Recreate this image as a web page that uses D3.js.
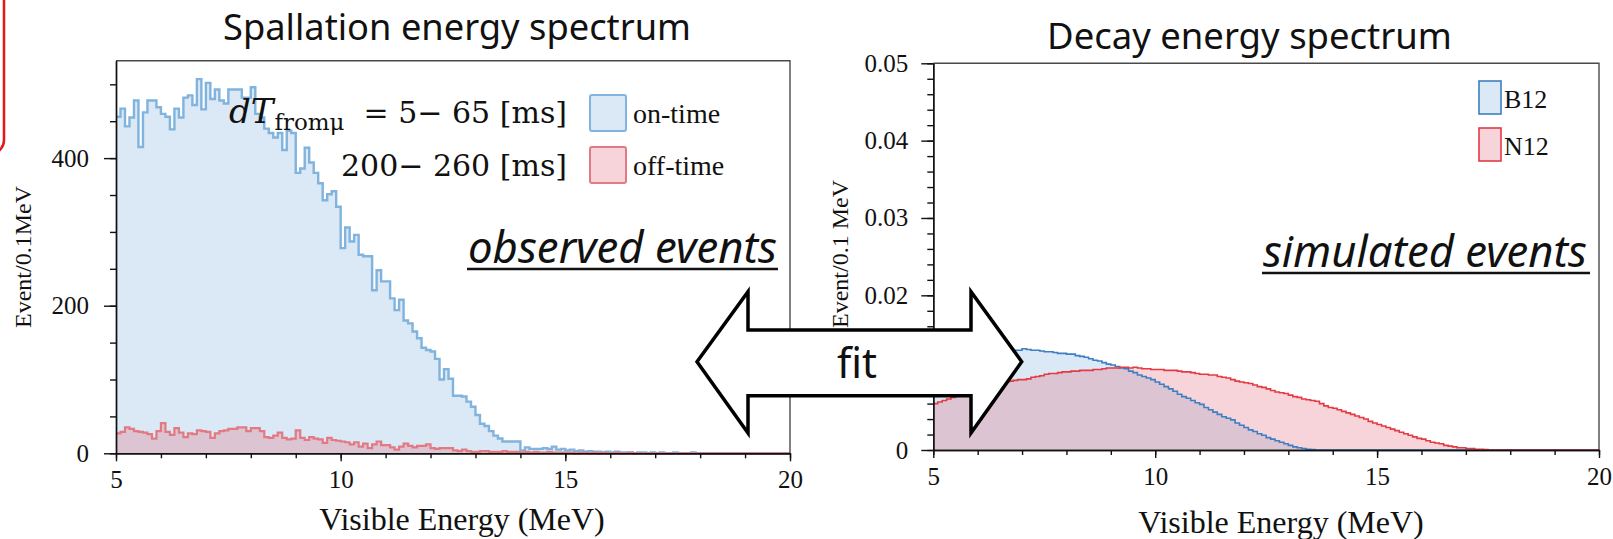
<!DOCTYPE html>
<html>
<head>
<meta charset="utf-8">
<script src="https://cdn.jsdelivr.net/npm/d3@7"></script>
<style>
  body { margin: 0; background: #fff; }
  svg { display: block; }
</style>
</head>
<body>
<svg id="chart" width="1613" height="539"></svg>
<script>
/*------------------------------------------*/
/*            Data                          */
/*------------------------------------------*/

var binStart = 5,
    binWidth = 0.1;

// observed events / 0.1 MeV, 5.0 .. 20.0 MeV
var onTime = [
  456, 467, 443, 455, 478, 415, 462, 478, 478, 469,
  460, 456, 439, 467, 455, 482, 485, 472, 507, 466,
  502, 480, 493, 478, 474, 493, 493, 493, 482, 482,
  496, 460, 455, 440, 434, 428, 434, 411, 437, 434,
  380, 386, 414, 394, 380, 366, 343, 351, 355, 334,
  278, 306, 287, 296, 269, 267, 267, 221, 248, 233,
  233, 210, 194, 208, 180, 176, 165, 156, 143, 140,
  138, 128, 100, 114, 101, 78, 78, 77, 70, 63,
  52, 40, 37, 30, 24, 20, 16, 16, 16, 16,
  4, 8, 6, 6, 6, 7, 6, 9, 5, 6,
  4, 5, 3, 4, 2, 3, 2, 2, 1, 2,
  1, 2, 1, 1, 1, 0, 1, 1, 0, 1,
  0, 1, 0, 0, 1, 0, 0, 0, 1, 0,
  0, 0, 0, 0, 0, 0, 0, 0, 0, 0,
  0, 0, 0, 0, 0, 0, 0, 0, 0, 0
];

var offTime = [
  27, 29, 35, 33, 30, 29, 28, 26, 20, 30,
  41, 29, 25, 34, 28, 22, 27, 26, 31, 30,
  29, 21, 27, 30, 31, 33, 33, 35, 35, 30,
  34, 34, 30, 22, 21, 24, 28, 21, 19, 20,
  31, 21, 18, 22, 20, 19, 14, 21, 18, 17,
  16, 15, 12, 15, 9, 13, 7, 12, 16, 11,
  11, 8, 5, 9, 13, 10, 8, 10, 10, 12,
  7, 6, 7, 7, 7, 4, 3, 5, 3, 2,
  2, 3, 3, 2, 2, 2, 3, 2, 2, 2,
  1, 2, 1, 2, 1, 1, 2, 1, 1, 1,
  1, 1, 0, 1, 1, 0, 1, 0, 1, 0,
  0, 1, 0, 0, 1, 0, 0, 0, 0, 0,
  0, 0, 0, 0, 0, 0, 0, 0, 0, 0,
  0, 0, 0, 0, 0, 0, 0, 0, 0, 0,
  0, 0, 0, 0, 0, 0, 0, 0, 0, 0
];

// simulated spectra, normalised / 0.1 MeV
var b12 = [
  .0110, .0111, .0112, .0113, .0114, .0115, .0116, .0117, .0118, .0119,
  .0120, .0121, .0122, .0123, .0124, .0125, .0126, .0127, .0129, .0129,
  .0131, .0130, .0129, .0129, .0128, .0127, .0127, .0126, .0125, .0125,
  .0124, .0124, .0122, .0121, .0120, .0118, .0116, .0115, .0113, .0111,
  .0110, .0108, .0106, .0105, .0102, .0100, .0097, .0095, .0093, .0091,
  .0088, .0085, .0082, .0079, .0076, .0072, .0069, .0067, .0064, .0061,
  .0059, .0055, .0052, .0049, .0046, .0043, .0041, .0039, .0035, .0032,
  .0029, .0026, .0024, .0021, .0019, .0016, .0014, .0012, .0010, .0008,
  .0006, .0004, .0003, .0002, .0001, .00005, 0, 0, 0, 0,
  0, 0, 0, 0, 0, 0, 0, 0, 0, 0,
  0, 0, 0, 0, 0, 0, 0, 0, 0, 0,
  0, 0, 0, 0, 0, 0, 0, 0, 0, 0,
  0, 0, 0, 0, 0, 0, 0, 0, 0, 0,
  0, 0, 0, 0, 0, 0, 0, 0, 0, 0,
  0, 0, 0, 0, 0, 0, 0, 0, 0, 0
];

var n12 = [
  .0060, .0062, .0064, .0066, .0068, .0070, .0072, .0074, .0076, .0078,
  .0079, .0081, .0082, .0084, .0085, .0087, .0088, .0089, .0090, .0091,
  .0091, .0092, .0094, .0095, .0096, .0098, .0099, .0099, .0100, .0101,
  .0101, .0102, .0102, .0103, .0103, .0103, .0104, .0104, .0105, .0106,
  .0106, .0106, .0107, .0107, .0106, .0107, .0106, .0105, .0105, .0104,
  .0104, .0104, .0103, .0103, .0103, .0102, .0101, .0101, .0100, .0099,
  .0098, .0098, .0097, .0097, .0095, .0094, .0093, .0091, .0089, .0088,
  .0087, .0086, .0084, .0082, .0081, .0079, .0077, .0075, .0074, .0073,
  .0071, .0069, .0068, .0066, .0065, .0064, .0063, .0060, .0057, .0055,
  .0054, .0052, .0050, .0048, .0046, .0044, .0042, .0040, .0037, .0035,
  .0033, .0031, .0029, .0027, .0025, .0023, .0021, .0019, .0017, .0015,
  .0014, .0012, .0010, .0009, .0008, .0006, .0005, .0004, .0003, .0003,
  .0002, .0002, .0001, .0001, .00005, 0, 0, 0, 0, 0,
  0, 0, 0, 0, 0, 0, 0, 0, 0, 0,
  0, 0, 0, 0, 0, 0, 0, 0, 0, 0
];

var energyTicks = [5, 10, 15, 20],
    energyMinor = [5, 6, 7, 8, 9, 10, 11, 12, 13, 14, 15, 16, 17, 18, 19, 20];

var spallTicks = [0, 200, 400],
    spallMinor = [0, 50, 100, 150, 200, 250, 300, 350, 400, 450, 500];

// 0.01 sits behind the fit arrow in the original, so it only gets a tick
var decayTicks = [0, 0.01, 0.02, 0.03, 0.04, 0.05],
    decayLabels = [0, 0.02, 0.03, 0.04, 0.05],
    decayMinor = d3.range(0, 0.0501, 0.002);

var spallLegend = ["on-time", "off-time"],
    decayLegend = ["B12", "N12"];

/*------------------------------------------*/
/*            Setup                         */
/*------------------------------------------*/

var svg = d3.select("#chart");
var serif = "'Liberation Serif', 'Times New Roman', serif",
    sans = "'Noto Sans', 'Open Sans', sans-serif",
    mathFont = "'DejaVu Serif', serif";

var blue = "#80b3dd", blueDark = "#3d7fc2",
    red = "#e27a83", redDark = "#e33a44";

var blueFill = "rgba(110,165,215,0.25)",
    redFill = "rgba(226,112,128,0.3)";

// shrink or grow a text so it covers the given width
function fitWidth(sel, w) {
  var len = sel.node().getComputedTextLength(),
      fs = parseFloat(sel.attr("font-size"));
  sel.attr("font-size", fs * w / len);
}

function binPoints(values) {
  var pts = values.map(function(v, i) { return [binStart + i * binWidth, v]; });
  pts.push([binStart + values.length * binWidth, values[values.length - 1]]);
  return pts;
}

function drawHists(g, x, y, series) {
  var area = d3.area()
      .curve(d3.curveStepAfter)
      .x(function(d) { return x(d[0]); })
      .y0(y(0))
      .y1(function(d) { return y(d[1]); });
  var line = d3.line()
      .curve(d3.curveStepAfter)
      .x(function(d) { return x(d[0]); })
      .y(function(d) { return y(d[1]); });

  series.forEach(function(s) {
    g.append("path")
        .attr("d", area(binPoints(s.values)))
        .attr("fill", s.fill);
  });
  series.forEach(function(s) {
    g.append("path")
        .attr("d", line(binPoints(s.values)))
        .attr("fill", "none")
        .attr("stroke", s.colour)
        .attr("stroke-width", s.width);
  });
}

function drawAxes(g, x, y, opt) {
  var x0 = x.range()[0], x1 = x.range()[1],
      y0 = y.range()[0], y1 = y.range()[1];

  // frame
  g.append("path")
      .attr("d", "M" + x0 + "," + y1 + "H" + x1 + "V" + y0)
      .attr("fill", "none").attr("stroke", "#4a4a4a").attr("stroke-width", 1.4);

  var minorY = g.append("g").attr("transform", "translate(" + x0 + ",0)")
      .call(d3.axisLeft(y).tickValues(opt.yMinor).tickSize(6).tickSizeOuter(0).tickFormat(""));
  var majorY = g.append("g").attr("transform", "translate(" + x0 + ",0)")
      .call(d3.axisLeft(y).tickValues(opt.yTicks).tickSize(12).tickSizeOuter(0)
            .tickPadding(opt.yPad).tickFormat(opt.yFormat));

  var minorX = g.append("g").attr("transform", "translate(0," + y0 + ")")
      .call(d3.axisBottom(x).tickValues(energyMinor).tickSize(5).tickSizeOuter(0).tickFormat(""));
  var majorX = g.append("g").attr("transform", "translate(0," + y0 + ")")
      .call(d3.axisBottom(x).tickValues(energyTicks).tickSize(8).tickSizeOuter(0)
            .tickPadding(9).tickFormat(d3.format("d")));

  [minorY, majorY, minorX, majorX].forEach(function(a) {
    a.selectAll("path,line").attr("stroke", "#111").attr("stroke-width", 1.4);
    a.selectAll("text")
        .attr("font-family", serif)
        .attr("font-size", 25)
        .attr("fill", "#111");
  });

  g.append("text")
      .attr("x", opt.xTitleX).attr("y", opt.xTitleY)
      .attr("text-anchor", "middle")
      .attr("font-family", serif).attr("font-size", 32)
      .attr("fill", "#111")
      .text("Visible Energy (MeV)");

  g.append("text")
      .attr("transform", "translate(" + opt.yTitleX + "," + opt.yTitleY + ") rotate(-90)")
      .attr("text-anchor", "middle")
      .attr("font-family", serif).attr("font-size", 24)
      .attr("fill", "#111")
      .text(opt.yTitle);
}

/*------------------------------------------*/
/*            Left: spallation              */
/*------------------------------------------*/

var xL = d3.scaleLinear().domain([5, 20]).range([116, 790]),
    yL = d3.scaleLinear().domain([0, 532]).range([453.3, 60.7]);

var left = svg.append("g");

drawHists(left, xL, yL, [
  {values: onTime, fill: blueFill, colour: blue, width: 2.4},
  {values: offTime, fill: redFill, colour: red, width: 2.2}
]);

drawAxes(left, xL, yL, {
  yTicks: spallTicks, yMinor: spallMinor, yPad: 15, yFormat: d3.format("d"),
  xTitleX: 462, xTitleY: 530, yTitle: "Event/0.1MeV", yTitleX: 31, yTitleY: 257
});

var title1 = left.append("text")
    .attr("x", 457).attr("y", 40)
    .attr("text-anchor", "middle")
    .attr("font-family", sans).attr("font-size", 34)
    .attr("fill", "#111")
    .text("Spallation energy spectrum");
fitWidth(title1, 468);

// dT condition text
var cond = left.append("text")
    .attr("x", 229).attr("y", 123)
    .attr("font-family", mathFont).attr("font-size", 34)
    .attr("fill", "#111");
cond.append("tspan").attr("font-style", "italic").text("dT");
cond.append("tspan").attr("font-size", 23).attr("dy", 7).attr("dx", 1).text("from\u03bc");

left.append("text")
    .attr("x", 567).attr("y", 123)
    .attr("text-anchor", "end")
    .attr("font-family", mathFont).attr("font-size", 30)
    .attr("fill", "#111")
    .text("= 5\u2212 65 [ms]");

left.append("text")
    .attr("x", 567).attr("y", 176)
    .attr("text-anchor", "end")
    .attr("font-family", mathFont).attr("font-size", 30)
    .attr("fill", "#111")
    .text("200\u2212 260 [ms]");

// legend
var legL = left.selectAll("g.leg")
    .data(spallLegend)
    .enter().append("g")
    .attr("class", "leg")
    .attr("transform", function(d, i) { return "translate(590," + (95 + i * 52) + ")"; });

legL.append("rect")
    .attr("width", 36).attr("height", 36).attr("rx", 2)
    .attr("fill", function(d, i) { return i ? redFill : blueFill; })
    .attr("stroke", function(d, i) { return i ? red : blue; })
    .attr("stroke-width", 2);

legL.append("text")
    .attr("x", 43).attr("y", 28)
    .attr("font-family", serif).attr("font-size", 28)
    .attr("fill", "#111")
    .text(function(d) { return d; });

var obs = left.append("text")
    .attr("x", 468).attr("y", 263)
    .attr("font-family", sans).attr("font-size", 34)
    .attr("font-style", "italic")
    .attr("fill", "#111")
    .text("observed events");
fitWidth(obs, 309);

left.append("line")
    .attr("x1", 467).attr("x2", 778)
    .attr("y1", 269).attr("y2", 269)
    .attr("stroke", "#111").attr("stroke-width", 2.4);

/*------------------------------------------*/
/*            Right: decay                  */
/*------------------------------------------*/

var xR = d3.scaleLinear().domain([5, 20]).range([933.3, 1599]),
    yR = d3.scaleLinear().domain([0, 0.05]).range([450, 63.3]);

var right = svg.append("g");

drawHists(right, xR, yR, [
  {values: b12, fill: blueFill, colour: blueDark, width: 1.6},
  {values: n12, fill: redFill, colour: redDark, width: 1.6}
]);

drawAxes(right, xR, yR, {
  yTicks: decayTicks, yMinor: decayMinor, yPad: 13,
  yFormat: function(d) {
    if (decayLabels.indexOf(d) < 0) return "";
    return d === 0 ? "0" : d3.format(".2f")(d);
  },
  xTitleX: 1281, xTitleY: 533, yTitle: "Event/0.1 MeV", yTitleX: 848, yTitleY: 254
});

var title2 = right.append("text")
    .attr("x", 1249.5).attr("y", 49)
    .attr("text-anchor", "middle")
    .attr("font-family", sans).attr("font-size", 34)
    .attr("fill", "#111")
    .text("Decay energy spectrum");
fitWidth(title2, 405);

var legR = right.selectAll("g.leg")
    .data(decayLegend)
    .enter().append("g")
    .attr("class", "leg")
    .attr("transform", function(d, i) { return "translate(1479," + (81 + i * 47) + ")"; });

legR.append("rect")
    .attr("width", 22).attr("height", 33)
    .attr("fill", function(d, i) { return i ? redFill : blueFill; })
    .attr("stroke", function(d, i) { return i ? redDark : blueDark; })
    .attr("stroke-width", 1.6);

legR.append("text")
    .attr("x", 25).attr("y", 26.5)
    .attr("font-family", serif).attr("font-size", 26)
    .attr("fill", "#111")
    .text(function(d) { return d; });

var sim = right.append("text")
    .attr("x", 1263).attr("y", 267)
    .attr("font-family", sans).attr("font-size", 34)
    .attr("font-style", "italic")
    .attr("fill", "#111")
    .text("simulated events");
fitWidth(sim, 324);

right.append("line")
    .attr("x1", 1262).attr("x2", 1590)
    .attr("y1", 273).attr("y2", 273)
    .attr("stroke", "#111").attr("stroke-width", 2.4);

/*------------------------------------------*/
/*            Fit arrow & slide frame       */
/*------------------------------------------*/

var arrow = {tipL: 697, baseL: 748, baseR: 971, tipR: 1021.7,
             mid: 361.7, headTop: 291.7, headBot: 433, shaftTop: 330, shaftBot: 395.7};

var arrowPts = [
  [arrow.tipL, arrow.mid], [arrow.baseL, arrow.headTop], [arrow.baseL, arrow.shaftTop],
  [arrow.baseR, arrow.shaftTop], [arrow.baseR, arrow.headTop], [arrow.tipR, arrow.mid],
  [arrow.baseR, arrow.headBot], [arrow.baseR, arrow.shaftBot], [arrow.baseL, arrow.shaftBot],
  [arrow.baseL, arrow.headBot]
];

svg.append("path")
    .attr("d", d3.line()(arrowPts) + "Z")
    .attr("fill", "#fff")
    .attr("stroke", "#000")
    .attr("stroke-width", 3.5)
    .attr("stroke-linejoin", "miter");

var fit = svg.append("text")
    .attr("x", 837).attr("y", 378)
    .attr("font-family", sans).attr("font-size", 42)
    .attr("fill", "#111")
    .text("fit");
fitWidth(fit, 40);

svg.append("rect")
    .attr("x", -40).attr("y", -20)
    .attr("width", 44).attr("height", 174)
    .attr("rx", 14)
    .attr("fill", "none")
    .attr("stroke", "#e8141c")
    .attr("stroke-width", 2.5);
</script>
</body>
</html>
